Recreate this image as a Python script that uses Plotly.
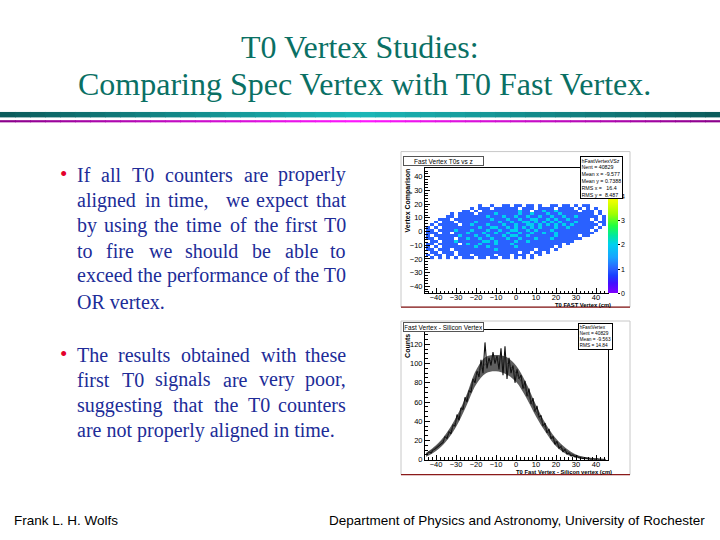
import plotly.graph_objects as go

W, H = 720, 540

# ---------------- text content ----------------
TITLE_LINES = ["T0 Vertex Studies:", "Comparing Spec Vertex with T0 Fast Vertex."]
FOOTER_LEFT = "Frank L. H. Wolfs"
FOOTER_RIGHT = "Department of Physics and Astronomy, University of Rochester"

BULLET1_LINES = [
    "If all T0 counters are properly",
    "aligned in time,  we expect that",
    "by using the time of the first T0",
    "to fire we should be able to",
    "exceed the performance of the T0",
    "OR vertex.",
]
BULLET2_LINES = [
    "The results obtained with these",
    "first T0 signals are very poor,",
    "suggesting that the T0 counters",
    "are not properly aligned in time.",
]

# ---------------- 2D histogram (Fast Vertex T0s vs z) ----------------
VTX_TITLE = "Fast Vertex T0s vs z"
VTX_XTITLE = "T0 FAST Vertex (cm)"
VTX_YTITLE = "Vertex Comparison"
VTX_STATS = ["hFastVertexVSz", "Nent = 40829", "Mean x = -9.577",
             "Mean y = 0.7388", "RMS x =   16.4", "RMS y =  8.487"]
VTX_X_FIRST, VTX_X_STEP = -44, 2     # bin centres (cm)
VTX_Y_FIRST, VTX_Y_STEP = -19, 2
# rows from y = +19 (top) down to y = -19 (bottom); digits = bin content
VTX_ROWS_TOP_FIRST = [
    "00000 00000 00010 01001 10110 11010 01101 10101 10000",
    "00000 00000 01011 10111 11101 11011 11011 11010 10100",
    "00000 00001 10101 11111 11121 10112 11211 11101 11010",
    "00000 01011 11011 11211 11121 12111 21121 11111 11010",
    "00000 11011 11111 21112 11211 21121 12112 11211 11101",
    "00011 10111 11111 12111 21121 12211 21211 21111 10101",
    "00101 11011 11211 11121 12112 21212 12121 11211 11011",
    "01011 11101 12111 21112 11211 22121 21212 12111 11101",
    "10101 11111 11121 12211 21212 12121 11211 21111 11010",
    "11011 11211 12111 21121 12211 21211 12111 11111 10100",
    "11101 10111 21112 11211 21121 12112 11211 11111 11000",
    "10111 11121 11211 21112 12211 21111 11211 11101 10000",
    "11011 11011 21121 12111 21121 11211 12111 11110 00000",
    "01101 11211 11112 21211 11211 21111 11111 11000 00000",
    "11011 11101 21121 11211 12111 11111 11110 10000 00000",
    "10101 11111 11211 21111 11211 11111 11010 00000 00000",
    "11011 10111 11111 11211 11111 11011 10100 00000 00000",
    "01101 11011 11111 11111 11101 10110 10000 00000 00000",
    "10110 11011 10111 11011 10111 01010 00000 00000 00000",
    "01010 10101 11011 01101 10101 01000 00000 00000 00000",
]
VTX_Z_TICKS = [0, 1, 2, 3, 4]

# ---------------- 1D histogram (Fast Vertex - Silicon Vertex) ----------------
DIFF_TITLE = "Fast Vertex - Silicon Vertex"
DIFF_XTITLE = "T0 Fast Vertex - Silicon vertex (cm)"
DIFF_YTITLE = "Counts"
DIFF_STATS = ["hFastVertex", "Nent = 40829", "Mean = -9.563", "RMS = 14.84"]
DIFF_X_FIRST, DIFF_X_STEP = -44.5, 1
DIFF_COUNTS = [
    6, 8, 7, 10, 11, 13, 15, 17, 18, 24,
    22, 29, 27, 36, 35, 47, 41, 54, 52, 65,
    60, 72, 70, 84, 80, 92, 86, 104, 90, 122,
    95, 106, 98, 112, 100, 108, 94, 116, 88, 118,
    84, 106, 90, 98, 80, 94, 84, 88, 74, 82,
    66, 74, 58, 64, 50, 56, 44, 46, 35, 38,
    28, 32, 22, 24, 16, 19, 12, 14, 8, 11,
    6, 7, 4, 5, 3, 4, 2, 2, 1, 2,
    1, 1, 0, 1, 0, 1, 0, 0, 0, 0,
]
# spread of the densely binned histogram (lower / upper edge of the dark band)
BAND_X = [-45, -40, -35, -30, -25, -20, -15, -10, -5, 0, 5, 10, 15, 20, 25, 30, 35, 40, 45]
BAND_LOW = [3, 9, 19, 34, 55, 78, 90, 92, 89, 81, 65, 45, 28, 14, 6, 2, 0.5, 0, 0]
BAND_HIGH = [7, 15, 27, 44, 66, 93, 107, 109, 107, 98, 80, 57, 37, 22, 12, 5.5, 2.5, 1.2, 0.5]
FIT_X = [-45, -40, -35, -30, -25, -20, -15, -10, -5, 0, 5, 10, 15, 20, 25, 30, 35, 40, 45]
FIT_Y = [6, 13, 24, 40, 63, 87, 100, 105, 101, 90, 72, 50, 32, 18, 9, 4, 2, 1, 0.3]

# ---------------- styling helpers ----------------
TEAL = "#0a7064"
NAVY = "#202c98"
SERIF = "Liberation Serif"
SANS = "Liberation Sans"

# Times / Liberation Serif advance widths (1/1000 em) used to justify the bullet text
TIMES_W = {
    "a": 444, "b": 500, "c": 444, "d": 500, "e": 444, "f": 333, "g": 500, "h": 500,
    "i": 278, "j": 278, "k": 500, "l": 278, "m": 778, "n": 500, "o": 500, "p": 500,
    "q": 500, "r": 333, "s": 389, "t": 278, "u": 500, "v": 500, "w": 722, "x": 500,
    "y": 500, "z": 444, "T": 611, "O": 722, "R": 667, "I": 333, "0": 500, ",": 250,
    ".": 250,
}


def word_width(w, size):
    return sum(round(TIMES_W.get(c, 500) * size / 1000.0) for c in w)


def px(x):
    return x / W


def py(y):
    return 1 - y / H


def mix(c1, c2, t):
    a = [int(c1[i:i + 2], 16) for i in (1, 3, 5)]
    b = [int(c2[i:i + 2], 16) for i in (1, 3, 5)]
    return "#%02x%02x%02x" % tuple(round(a[k] + (b[k] - a[k]) * t) for k in range(3))


z_rows = []
for row in reversed(VTX_ROWS_TOP_FIRST):
    digits = row.replace(" ", "")
    z_rows.append([None if d == "0" else int(d) for d in digits])

fig = go.Figure()

root_scale = [
    [0.00, "#7f00ff"], [0.10, "#4010ff"], [0.18, "#1a40ff"], [0.25, "#2c64ff"],
    [0.36, "#18a4ff"], [0.49, "#00d0f0"], [0.58, "#00e8a0"], [0.68, "#20ff40"],
    [0.80, "#a0ff00"], [0.92, "#e8ff00"], [1.00, "#ffff00"],
]

fig.add_trace(go.Heatmap(
    z=z_rows, x0=VTX_X_FIRST, dx=VTX_X_STEP, y0=VTX_Y_FIRST, dy=VTX_Y_STEP,
    zmin=0, zmax=4.1, colorscale=root_scale, hoverinfo="skip",
    xaxis="x", yaxis="y",
    colorbar=dict(
        x=px(608), xanchor="left", y=py(296), yanchor="bottom",
        thickness=10, thicknessmode="pixels", len=99, lenmode="pixels",
        xpad=0, ypad=0, outlinewidth=0, tickvals=VTX_Z_TICKS,
        ticks="outside", ticklen=2, tickcolor="black",
        tickfont=dict(family=SANS, size=7, color="black"),
    ),
))

fig.add_trace(go.Scatter(
    x=BAND_X, y=BAND_LOW, mode="lines", line=dict(width=0, shape="spline"),
    xaxis="x2", yaxis="y2", hoverinfo="skip", showlegend=False,
))
fig.add_trace(go.Scatter(
    x=BAND_X, y=BAND_HIGH, mode="lines", line=dict(width=0, shape="spline"),
    fill="tonexty", fillcolor="rgba(40,40,40,0.75)",
    xaxis="x2", yaxis="y2", hoverinfo="skip", showlegend=False,
))
fig.add_trace(go.Scatter(
    y=DIFF_COUNTS, x0=DIFF_X_FIRST, dx=DIFF_X_STEP, mode="lines",
    line=dict(color="#111111", width=1.1), xaxis="x2", yaxis="y2",
    hoverinfo="skip", showlegend=False,
))
fig.add_trace(go.Scatter(
    x=FIT_X, y=FIT_Y, mode="lines", line=dict(color="#333333", width=0.8, shape="spline"),
    xaxis="x2", yaxis="y2", hoverinfo="skip", showlegend=False,
))

axis_common = dict(
    showline=True, mirror=True, linecolor="black", linewidth=1,
    showgrid=False, zeroline=False, ticks="inside", ticklen=5, tickcolor="black",
    tickfont=dict(family=SANS, size=7.5, color="black"),
)

fig.update_layout(
    width=W, height=H, margin=dict(l=0, r=0, t=0, b=0),
    paper_bgcolor="white", plot_bgcolor="white", showlegend=False,
    xaxis=dict(domain=[px(425), px(608)], range=[-45.5, 46], anchor="y",
               dtick=10, tick0=0, ticklabelstandoff=-3,
               minor=dict(ticks="inside", ticklen=2.5, dtick=2, tick0=0, tickcolor="black"),
               **axis_common),
    yaxis=dict(domain=[py(296), py(170)], range=[-45, 46], anchor="x",
               dtick=10, tick0=0,
               minor=dict(ticks="inside", ticklen=2.5, dtick=2, tick0=0, tickcolor="black"),
               **axis_common),
    xaxis2=dict(domain=[px(425), px(608)], range=[-45.5, 46], anchor="y2",
                dtick=10, tick0=0, ticklabelstandoff=-3,
                minor=dict(ticks="inside", ticklen=2.5, dtick=2, tick0=0, tickcolor="black"),
                **axis_common),
    yaxis2=dict(domain=[py(464), py(333)], range=[0, 135], anchor="x2",
                dtick=20, tick0=0,
                minor=dict(ticks="inside", ticklen=2.5, dtick=5, tick0=0, tickcolor="black"),
                **axis_common),
)

shapes = []
# ROOT canvases
for (x0, y0, x1, y1) in [(401, 153, 630, 310), (401, 324, 630, 479)]:
    shapes.append(dict(type="rect", xref="paper", yref="paper",
                       x0=px(x0), x1=px(x1), y0=py(y1), y1=py(y0),
                       line=dict(color="#c8c8c8", width=1), fillcolor="white", layer="below"))
    shapes.append(dict(type="line", xref="paper", yref="paper",
                       x0=px(x0), x1=px(x1), y0=py(y1), y1=py(y1),
                       line=dict(color="#8b1a1a", width=1.2)))

# gradient separator bands under the title
NSEG = 48
for k in range(NSEG):
    x0 = k * W / NSEG
    x1 = (k + 1) * W / NSEG
    t = 1 - abs((x0 + x1) / 2 - W / 2) / (W / 2)
    shapes.append(dict(type="rect", xref="paper", yref="paper",
                       x0=px(x0), x1=px(x1) + 0.001, y0=py(118.5), y1=py(113),
                       line=dict(width=0), fillcolor=mix("#0b5a5a", "#1ab8b8", t)))
    shapes.append(dict(type="rect", xref="paper", yref="paper",
                       x0=px(x0), x1=px(x1) + 0.001, y0=py(123.5), y1=py(121.3),
                       line=dict(width=0), fillcolor=mix("#8a008a", "#ff18ff", t)))

# stats box separator lines
shapes.append(dict(type="line", xref="paper", yref="paper", x0=px(580), x1=px(622),
                   y0=py(163.5), y1=py(163.5), line=dict(color="black", width=0.8)))
shapes.append(dict(type="line", xref="paper", yref="paper", x0=px(578), x1=px(612),
                   y0=py(332.0), y1=py(332.0), line=dict(color="black", width=0.8)))
fig.update_layout(shapes=shapes)

ann = []


def text(x, y, s, size, color, family, xanchor="left", yanchor="middle", **kw):
    ann.append(dict(x=px(x), y=py(y), xref="paper", yref="paper", text=s, showarrow=False,
                    xanchor=xanchor, yanchor=yanchor,
                    font=dict(family=family, size=size, color=color), **kw))


# title
text(360, 47, TITLE_LINES[0], 32, TEAL, SERIF, xanchor="center")
text(364, 85, TITLE_LINES[1], 32, TEAL, SERIF, xanchor="center")

# bullets (justified between LEFT_EDGE and RIGHT_EDGE, last line of each left-aligned)
LEFT_EDGE, RIGHT_EDGE, BODY_SIZE = 76, 347, 20
B1_Y = [176.5, 202, 227.5, 253, 278.5, 304.5]
B2_Y = [358, 383.5, 409, 434.5]

for lines, ys in [(BULLET1_LINES, B1_Y), (BULLET2_LINES, B2_Y)]:
    text(63.5, ys[0] - 1, "\u2022", 21, "#e4002b", SERIF, xanchor="center")
    for li, (line, yv) in enumerate(zip(lines, ys)):
        parts = line.split(" ")
        words = [p for p in parts if p]
        if li == len(lines) - 1 or len(words) < 2:
            text(LEFT_EDGE, yv, line, BODY_SIZE, NAVY, SERIF, borderpad=0)
            continue
        weights, cnt = [], 0
        for p in parts[1:]:
            cnt += 1
            if p:
                weights.append(cnt)
                cnt = 0
        widths = [word_width(w, BODY_SIZE) for w in words]
        unit = (RIGHT_EDGE - LEFT_EDGE - sum(widths)) / sum(weights)
        if unit < 5.5:
            text(LEFT_EDGE, yv, " ".join(words), BODY_SIZE, NAVY, SERIF, borderpad=0)
            continue
        xpos = LEFT_EDGE
        for wi, (w, ww) in enumerate(zip(words, widths)):
            if wi == len(words) - 1:
                text(RIGHT_EDGE, yv, w, BODY_SIZE, NAVY, SERIF, xanchor="right", borderpad=0)
            else:
                text(xpos, yv, w, BODY_SIZE, NAVY, SERIF, borderpad=0)
                xpos += ww + unit * weights[wi]

# footer
text(12, 525, FOOTER_LEFT, 13.5, "black", SANS)
text(707, 525, FOOTER_RIGHT, 13.5, "black", SANS, xanchor="right")

# ROOT pad decorations: titles, axis titles, stats boxes
text(403, 157, VTX_TITLE, 6.5, "black", SANS, yanchor="top", width=78, height=7,
     bordercolor="#555555", borderwidth=1, bgcolor="white", borderpad=0.5, align="center")
text(403, 325, DIFF_TITLE, 6.5, "black", SANS, yanchor="top", width=78, height=7,
     bordercolor="#555555", borderwidth=1, bgcolor="white", borderpad=0.5, align="center")

text(612, 308.3, "<b>" + VTX_XTITLE + "</b>", 5.8, "black", SANS, xanchor="right", borderpad=0)
text(613, 476.3, "<b>" + DIFF_XTITLE + "</b>", 5.8, "black", SANS, xanchor="right", borderpad=0)
text(408, 168, "<b>" + VTX_YTITLE + "</b>", 7, "black", SANS, xanchor="center",
     yanchor="top", textangle=-90)
text(408, 335, "<b>" + DIFF_YTITLE + "</b>", 7, "black", SANS, xanchor="center",
     yanchor="top", textangle=-90)

text(580, 157, "<br>".join(VTX_STATS), 5.3, "black", SANS, yanchor="top", align="left",
     width=40, bordercolor="black", borderwidth=1, bgcolor="white", borderpad=0.5)
text(578, 326, "<br>".join(DIFF_STATS), 4.8, "black", SANS, yanchor="top", align="left",
     width=32, bordercolor="black", borderwidth=1, bgcolor="white", borderpad=0.5)

fig.update_layout(annotations=ann)
fig.write_html("out.html", config={"displayModeBar": False},
               post_script="document.body.style.margin='0';document.body.style.overflow='hidden';")
